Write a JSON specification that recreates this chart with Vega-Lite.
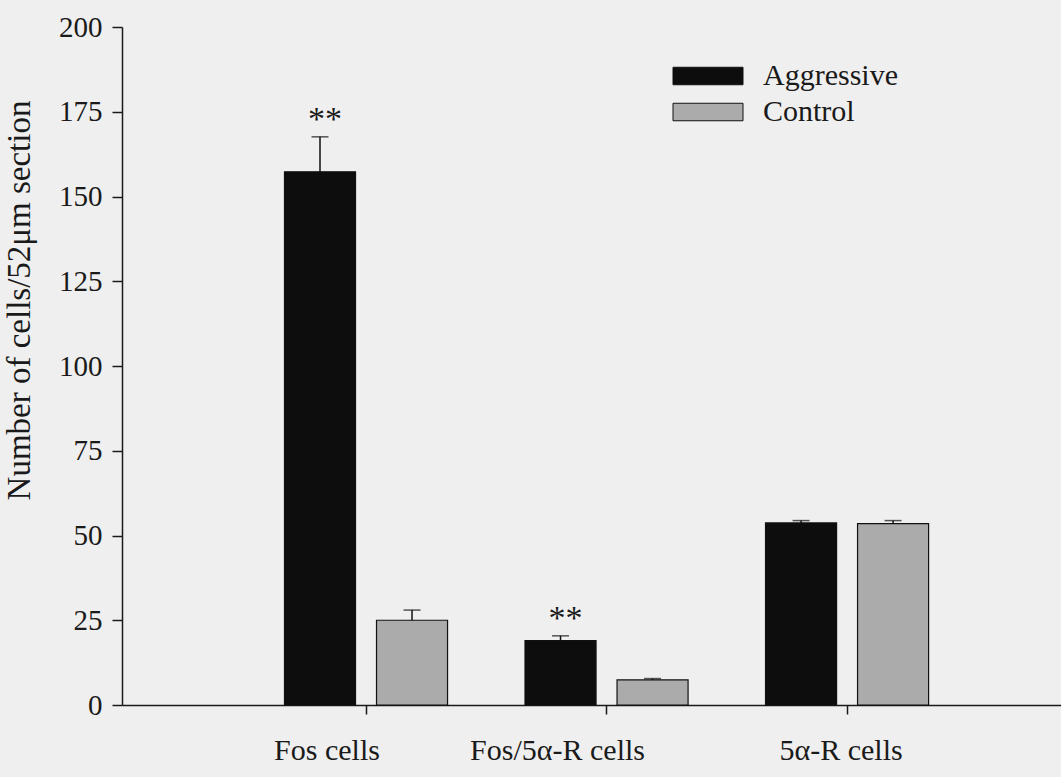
{
  "$schema": "https://vega.github.io/schema/vega-lite/v6.json",
  "autosize": "none",
  "width": 939,
  "height": 678,
  "padding": {"left": 122, "top": 27, "right": 0, "bottom": 72},
  "background": "#efefef",
  "config": {
    "view": {"stroke": null},
    "font": "Liberation Serif",
    "axis": {"grid": false, "domainColor": "#1a1a1a", "tickColor": "#1a1a1a", "labelColor": "#1a1a1a", "titleColor": "#1a1a1a", "labelFont": "Liberation Serif", "titleFont": "Liberation Serif", "domainWidth": 1.5, "tickWidth": 1.5}
  },
  "data": {
    "values": [
      {"category": "Fos cells", "group": "Aggressive", "mean": 157.3, "err": 167.6, "sig": "**"},
      {"category": "Fos cells", "group": "Control", "mean": 25.0, "err": 28.0, "sig": ""},
      {"category": "Fos/5α-R cells", "group": "Aggressive", "mean": 19.0, "err": 20.4, "sig": "**"},
      {"category": "Fos/5α-R cells", "group": "Control", "mean": 7.4, "err": 7.8, "sig": ""},
      {"category": "5α-R cells", "group": "Aggressive", "mean": 53.7, "err": 54.4, "sig": ""},
      {"category": "5α-R cells", "group": "Control", "mean": 53.5, "err": 54.4, "sig": ""}
    ]
  },
  "encoding": {
    "x": {
      "field": "category", "type": "nominal", "sort": null,
      "scale": {"paddingInner": 0.322, "paddingOuter": 0.613, "align": 0.551},
      "axis": {"title": null, "labelAngle": 0, "labelFontSize": 30, "labelPadding": 21, "tickSize": 9, "domain": true,
        "labelOffset": {"expr": "datum.value == 'Fos cells' ? -39 : datum.value == 'Fos/5α-R cells' ? -49 : -6"}}
    },
    "xOffset": {"field": "group", "type": "nominal", "sort": ["Aggressive", "Control"], "scale": {"paddingInner": 0.228, "paddingOuter": 0}}
  },
  "layer": [
    {
      "mark": {"type": "bar", "stroke": "#111111", "strokeWidth": 1.2},
      "encoding": {
        "y": {
          "field": "mean", "type": "quantitative",
          "scale": {"domain": [0, 200], "nice": false},
          "axis": {"title": "Number of cells/52μm section", "titleFontSize": 33, "titleFontWeight": "normal", "titleX": -86, "titleY": 273, "titleBaseline": "bottom", "titleAngle": -90, "labelFontSize": 29, "tickSize": 10, "labelPadding": 10, "values": [0, 25, 50, 75, 100, 125, 150, 175, 200]}
        },
        "color": {
          "field": "group", "type": "nominal",
          "scale": {"domain": ["Aggressive", "Control"], "range": ["#0d0d0d", "#ababab"]},
          "legend": {
            "title": null, "orient": "none", "legendX": 568, "legendY": 31,
            "symbolType": "M-2,-0.5H2V0.5H-2Z", "symbolSize": 1225,
            "symbolStrokeColor": "#111111", "symbolStrokeWidth": 1,
            "labelFontSize": 30, "labelColor": "#1a1a1a", "labelFont": "Liberation Serif",
            "rowPadding": 3, "labelOffset": 37, "symbolOpacity": 1
          }
        }
      }
    },
    {
      "mark": {"type": "rule", "color": "#111111", "strokeWidth": 1.5},
      "encoding": {
        "y": {"field": "mean", "type": "quantitative"},
        "y2": {"field": "err"}
      }
    },
    {
      "mark": {"type": "tick", "color": "#111111", "thickness": 1.5, "size": 17},
      "encoding": {
        "y": {"field": "err", "type": "quantitative"}
      }
    },
    {
      "mark": {"type": "text", "fontSize": 34, "color": "#1a1a1a", "baseline": "alphabetic", "dy": -7, "dx": 5, "font": "Liberation Serif"},
      "encoding": {
        "y": {"field": "err", "type": "quantitative"},
        "text": {"field": "sig"}
      }
    }
  ]
}
